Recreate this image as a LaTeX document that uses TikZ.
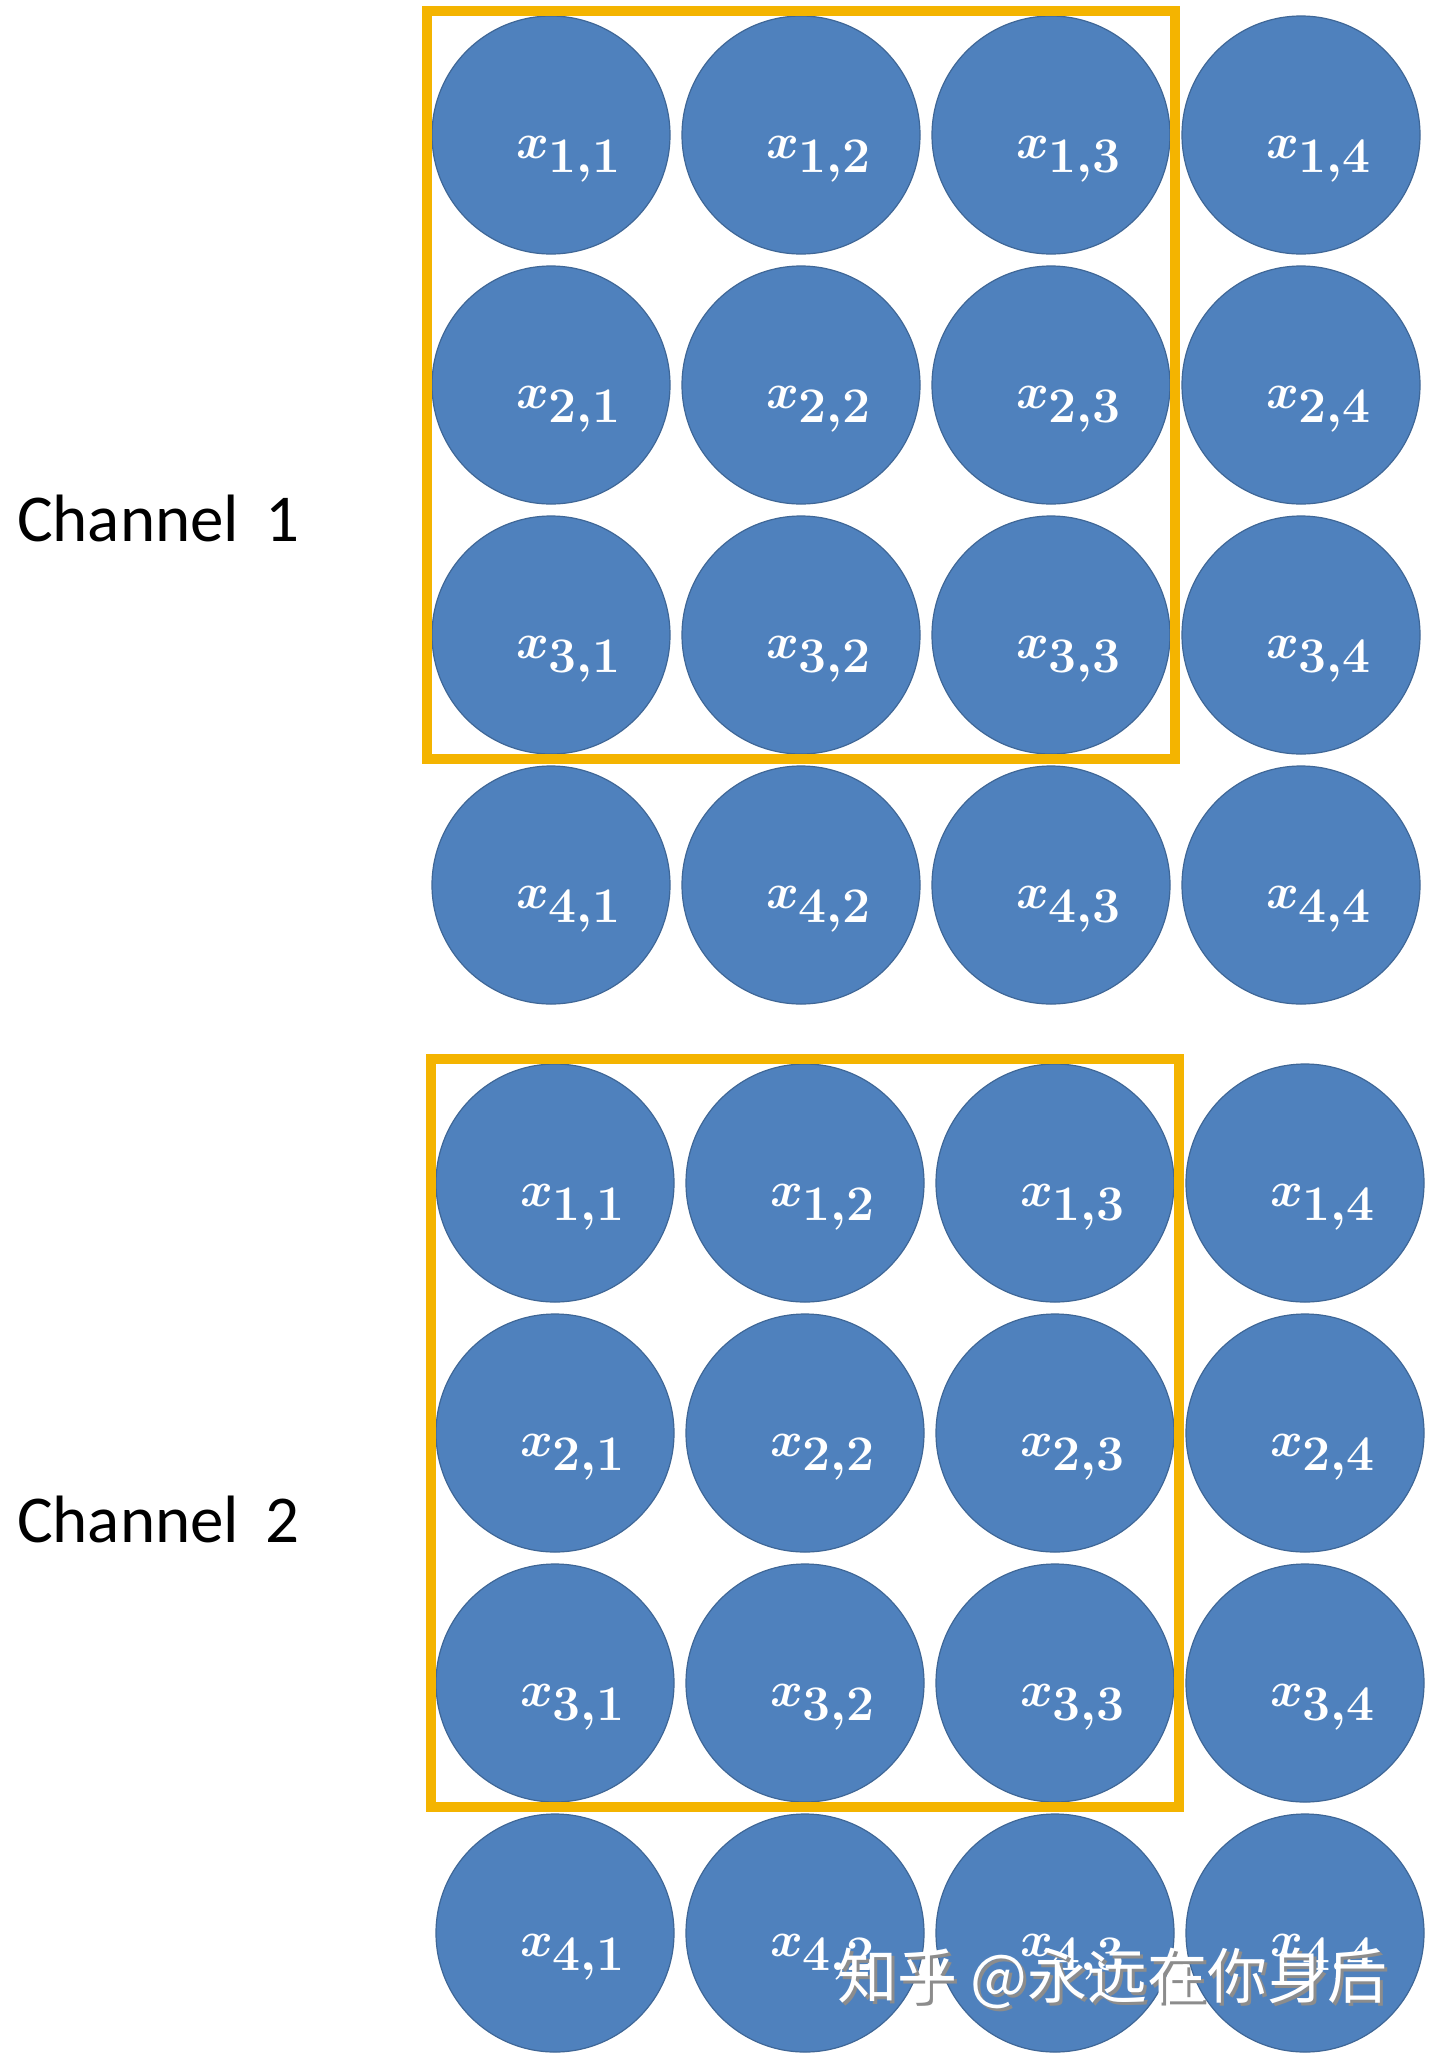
\documentclass[tikz,border=0pt]{standalone}
\usepackage{fontspec}
\setmainfont{Carlito}
\newfontfamily\cjk{Noto Sans CJK SC}
\usetikzlibrary{fit}
\definecolor{cellblue}{HTML}{4F81BD}
\definecolor{winyellow}{HTML}{F4B400}
\begin{document}
\begin{tikzpicture}[x=0.5pt,y=-0.5pt,
  cell/.style={circle,fill=cellblue,draw=cellblue!80!black,line width=0.6pt,minimum size=119pt,inner sep=0pt},
  lbl/.style={text=white,font=\fontsize{40}{44}\selectfont\boldmath,xshift=9pt,yshift=-12pt},
  win/.style={draw=winyellow,line width=5pt,inner sep=2pt},
  chan/.style={anchor=west,font=\fontsize{33.5}{38}\selectfont}]
\useasboundingbox (0,0) rectangle (1440,2067);
% channel 1 grid
\foreach \i in {1,...,4}
  \foreach \j in {1,...,4}
    \node[cell,label={[lbl]center:$x_{\i,\j}$}] (a-\i-\j) at ({551+250*(\j-1)},{135+250*(\i-1)}) {};
% channel 2 grid
\foreach \i in {1,...,4}
  \foreach \j in {1,...,4}
    \node[cell,label={[lbl]center:$x_{\i,\j}$}] (b-\i-\j) at ({555+250*(\j-1)},{1183+250*(\i-1)}) {};
% 3x3 windows
\node[win,fit=(a-1-1)(a-3-3)] (wa) {};
\node[win,fit=(b-1-1)(b-3-3)] (wb) {};
\node[chan] (cha) at (10,518) {Channel\, 1};
\node[chan] (chb) at (10,1519) {Channel\, 2};
% watermark
\node[anchor=west,text=black!45,font=\cjk\fontsize{30}{33}\selectfont] at (833,1981) {知乎 @永远在你身后};
\node[anchor=west,text=white,font=\cjk\fontsize{30}{33}\selectfont] (mark) at (830,1978) {知乎 @永远在你身后};
\end{tikzpicture}
\end{document}
